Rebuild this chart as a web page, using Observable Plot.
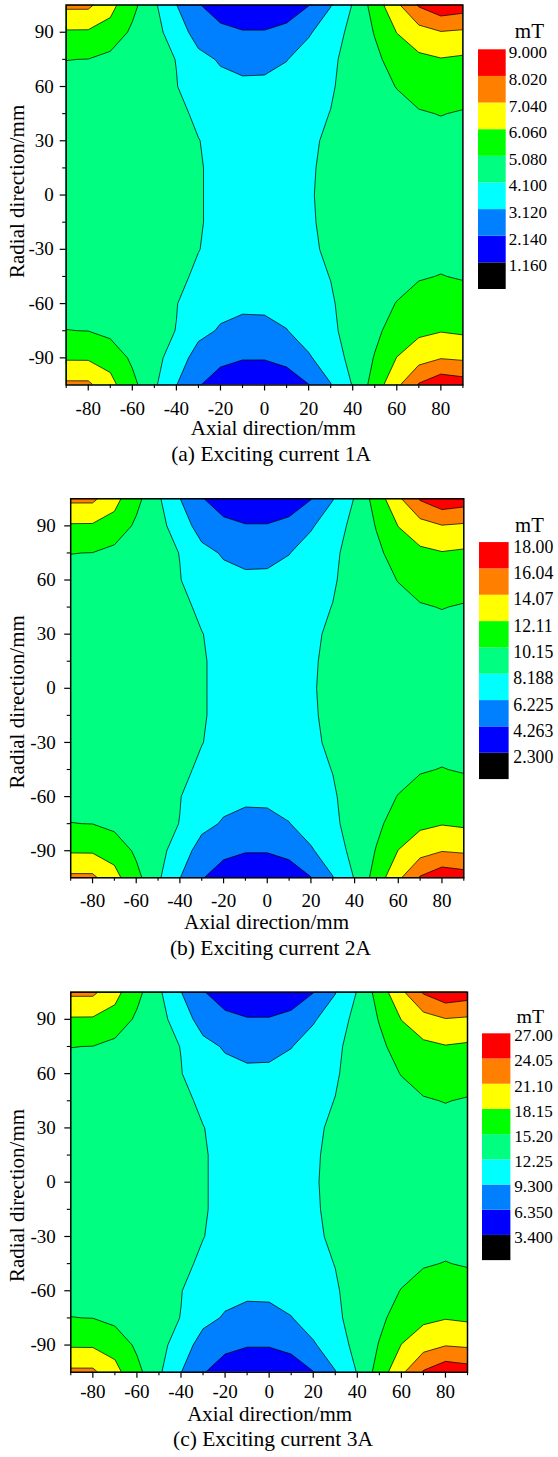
<!DOCTYPE html>
<html>
<head>
<meta charset="utf-8">
<script src="https://cdn.jsdelivr.net/npm/d3@7"></script>
<script src="https://cdn.jsdelivr.net/npm/@observablehq/plot@0.6"></script>
<style>
  html, body { margin: 0; padding: 0; background: #ffffff; }
  #root { position: relative; width: 558px; height: 1457px; overflow: hidden; background: #ffffff; }
  #root > div { position: absolute; }
  #root svg text { font-family: 'Liberation Serif', 'Times New Roman', Times, serif; }
</style>
</head>
<body>
<div id="root"></div>
<script>
// ---- grid coordinates (mm) ----
const xs = [-90, -80, -70, -60, -50, -40, -30, -20, -10, 0, 10, 20, 30, 40, 50, 60, 70, 80, 90];
const ys = [105, 90, 75, 60, 45, 30, 15, 0, -15, -30, -45, -60, -75, -90, -105];

// ---- axis ticks ----
const xTicks = [-80, -60, -40, -20, 0, 20, 40, 60, 80];
const xTickLabels = ["-80", "-60", "-40", "-20", "0", "20", "40", "60", "80"];
const xMinor = [-90, -70, -50, -30, -10, 10, 30, 50, 70, 90];
const yTicks = [-90, -60, -30, 0, 30, 60, 90];
const yTickLabels = ["-90", "-60", "-30", "0", "30", "60", "90"];
const yMinor = [75, 45, 15, -15, -45, -75];

// ---- colour levels ----
const bandColors = ["#000000", "#0000ff", "#0080ff", "#00ffff", "#00ff80", "#00ff00", "#ffff00", "#ff8000", "#ff0000"];

const levelsA = [1.16, 2.14, 3.12, 4.10, 5.08, 6.06, 7.04, 8.02, 9.00];
const labelsA = ["1.160", "2.140", "3.120", "4.100", "5.080", "6.060", "7.040", "8.020", "9.000"];
const levelsB = [2.30, 4.263, 6.225, 8.188, 10.15, 12.11, 14.07, 16.04, 18.00];
const labelsB = ["2.300", "4.263", "6.225", "8.188", "10.15", "12.11", "14.07", "16.04", "18.00"];
const levelsC = [3.40, 6.35, 9.30, 12.25, 15.20, 18.15, 21.10, 24.05, 27.00];
const labelsC = ["3.400", "6.350", "9.300", "12.25", "15.20", "18.15", "21.10", "24.05", "27.00"];

// ---- flux density (mT), rows = ys (105 .. -105), columns = xs (-90 .. 90) ----
const fieldA = [
  [7.24, 7.24, 6.35, 5.37, 4.25, 3.14, 2.19, 1.75, 1.55, 1.55, 1.75, 2.11, 3.08, 4.15, 5.52, 6.84, 8.12, 8.71, 8.51],
  [5.95, 5.94, 5.72, 4.90, 4.39, 3.66, 2.68, 2.34, 2.19, 2.19, 2.34, 3.02, 3.61, 4.39, 5.13, 6.08, 6.65, 6.99, 6.89],
  [5.09, 5.07, 4.81, 4.69, 4.39, 4.08, 3.41, 3.02, 2.73, 2.78, 3.09, 3.51, 3.90, 4.49, 4.88, 5.47, 5.86, 6.01, 5.91],
  [4.88, 4.88, 4.79, 4.69, 4.44, 4.13, 3.61, 3.41, 3.37, 3.37, 3.46, 3.61, 4.00, 4.49, 4.74, 5.11, 5.33, 5.42, 5.37],
  [4.79, 4.79, 4.74, 4.64, 4.49, 4.30, 3.95, 3.71, 3.56, 3.56, 3.66, 3.86, 4.12, 4.44, 4.59, 4.79, 5.03, 5.10, 5.03],
  [4.74, 4.74, 4.69, 4.59, 4.44, 4.30, 4.12, 3.86, 3.71, 3.71, 3.76, 3.95, 4.25, 4.44, 4.54, 4.64, 4.74, 4.88, 4.84],
  [4.69, 4.69, 4.64, 4.54, 4.39, 4.25, 4.16, 3.90, 3.76, 3.76, 3.81, 4.00, 4.30, 4.44, 4.54, 4.59, 4.69, 4.79, 4.79],
  [4.69, 4.69, 4.64, 4.54, 4.39, 4.25, 4.16, 3.90, 3.76, 3.76, 3.81, 4.03, 4.30, 4.44, 4.54, 4.59, 4.69, 4.79, 4.79],
  [4.69, 4.69, 4.64, 4.54, 4.39, 4.25, 4.16, 3.90, 3.76, 3.76, 3.81, 4.00, 4.30, 4.44, 4.54, 4.59, 4.69, 4.79, 4.79],
  [4.74, 4.74, 4.69, 4.59, 4.44, 4.30, 4.12, 3.86, 3.71, 3.71, 3.76, 3.95, 4.25, 4.44, 4.54, 4.64, 4.74, 4.88, 4.84],
  [4.79, 4.79, 4.74, 4.64, 4.49, 4.30, 3.95, 3.71, 3.56, 3.56, 3.66, 3.86, 4.12, 4.44, 4.59, 4.79, 5.03, 5.10, 5.03],
  [4.88, 4.88, 4.79, 4.69, 4.44, 4.13, 3.61, 3.41, 3.37, 3.37, 3.46, 3.61, 4.00, 4.49, 4.74, 5.11, 5.33, 5.42, 5.37],
  [5.09, 5.07, 4.81, 4.69, 4.39, 4.08, 3.41, 3.02, 2.73, 2.78, 3.09, 3.51, 3.90, 4.49, 4.88, 5.47, 5.86, 6.01, 5.91],
  [5.95, 5.94, 5.72, 4.90, 4.39, 3.66, 2.68, 2.34, 2.19, 2.19, 2.34, 3.02, 3.61, 4.39, 5.13, 6.08, 6.65, 6.99, 6.89],
  [7.24, 7.24, 6.35, 5.37, 4.25, 3.14, 2.19, 1.75, 1.55, 1.55, 1.75, 2.11, 3.08, 4.15, 5.52, 6.84, 8.12, 8.71, 8.51]
];

const fieldB = [
  [14.47, 14.47, 12.70, 10.74, 8.48, 6.26, 4.36, 3.48, 3.09, 3.09, 3.48, 4.20, 6.15, 8.29, 11.03, 13.68, 16.23, 17.41, 17.02],
  [11.90, 11.88, 11.43, 9.80, 8.78, 7.30, 5.34, 4.66, 4.36, 4.36, 4.66, 6.03, 7.21, 8.78, 10.25, 12.15, 13.29, 13.98, 13.78],
  [10.17, 10.13, 9.60, 9.37, 8.78, 8.15, 6.81, 6.03, 5.44, 5.54, 6.17, 7.01, 7.80, 8.97, 9.76, 10.94, 11.72, 12.01, 11.82],
  [9.76, 9.76, 9.56, 9.37, 8.87, 8.25, 7.21, 6.81, 6.72, 6.72, 6.91, 7.21, 7.99, 8.97, 9.46, 10.21, 10.64, 10.84, 10.74],
  [9.56, 9.56, 9.46, 9.27, 8.97, 8.58, 7.89, 7.40, 7.11, 7.11, 7.30, 7.70, 8.23, 8.87, 9.17, 9.56, 10.05, 10.19, 10.05],
  [9.46, 9.46, 9.37, 9.17, 8.87, 8.58, 8.23, 7.70, 7.40, 7.40, 7.50, 7.89, 8.48, 8.87, 9.07, 9.27, 9.46, 9.76, 9.66],
  [9.37, 9.37, 9.27, 9.07, 8.78, 8.48, 8.31, 7.80, 7.50, 7.50, 7.60, 7.99, 8.58, 8.87, 9.07, 9.17, 9.37, 9.56, 9.56],
  [9.37, 9.37, 9.27, 9.07, 8.78, 8.48, 8.31, 7.80, 7.50, 7.50, 7.60, 8.05, 8.58, 8.87, 9.07, 9.17, 9.37, 9.56, 9.56],
  [9.37, 9.37, 9.27, 9.07, 8.78, 8.48, 8.31, 7.80, 7.50, 7.50, 7.60, 7.99, 8.58, 8.87, 9.07, 9.17, 9.37, 9.56, 9.56],
  [9.46, 9.46, 9.37, 9.17, 8.87, 8.58, 8.23, 7.70, 7.40, 7.40, 7.50, 7.89, 8.48, 8.87, 9.07, 9.27, 9.46, 9.76, 9.66],
  [9.56, 9.56, 9.46, 9.27, 8.97, 8.58, 7.89, 7.40, 7.11, 7.11, 7.30, 7.70, 8.23, 8.87, 9.17, 9.56, 10.05, 10.19, 10.05],
  [9.76, 9.76, 9.56, 9.37, 8.87, 8.25, 7.21, 6.81, 6.72, 6.72, 6.91, 7.21, 7.99, 8.97, 9.46, 10.21, 10.64, 10.84, 10.74],
  [10.17, 10.13, 9.60, 9.37, 8.78, 8.15, 6.81, 6.03, 5.44, 5.54, 6.17, 7.01, 7.80, 8.97, 9.76, 10.94, 11.72, 12.01, 11.82],
  [11.90, 11.88, 11.43, 9.80, 8.78, 7.30, 5.34, 4.66, 4.36, 4.36, 4.66, 6.03, 7.21, 8.78, 10.25, 12.15, 13.29, 13.98, 13.78],
  [14.47, 14.47, 12.70, 10.74, 8.48, 6.26, 4.36, 3.48, 3.09, 3.09, 3.48, 4.20, 6.15, 8.29, 11.03, 13.68, 16.23, 17.41, 17.02]
];

const fieldC = [
  [21.69, 21.69, 19.04, 16.09, 12.69, 9.36, 6.50, 5.17, 4.58, 4.58, 5.17, 6.26, 9.18, 12.40, 16.53, 20.51, 24.35, 26.12, 25.53],
  [17.83, 17.80, 17.12, 14.67, 13.14, 10.92, 7.97, 6.94, 6.50, 6.50, 6.94, 9.01, 10.78, 13.14, 15.35, 18.21, 19.92, 20.95, 20.66],
  [15.23, 15.17, 14.37, 14.02, 13.14, 12.19, 10.19, 9.01, 8.12, 8.27, 9.21, 10.48, 11.66, 13.43, 14.61, 16.38, 17.56, 18.00, 17.71],
  [14.61, 14.61, 14.32, 14.02, 13.28, 12.34, 10.78, 10.19, 10.04, 10.04, 10.33, 10.78, 11.96, 13.43, 14.17, 15.29, 15.94, 16.23, 16.09],
  [14.32, 14.32, 14.17, 13.87, 13.43, 12.84, 11.81, 11.07, 10.63, 10.63, 10.92, 11.51, 12.31, 13.28, 13.73, 14.32, 15.05, 15.26, 15.05],
  [14.17, 14.17, 14.02, 13.73, 13.28, 12.84, 12.31, 11.51, 11.07, 11.07, 11.22, 11.81, 12.69, 13.28, 13.58, 13.87, 14.17, 14.61, 14.46],
  [14.02, 14.02, 13.87, 13.58, 13.14, 12.69, 12.43, 11.66, 11.22, 11.22, 11.37, 11.96, 12.84, 13.28, 13.58, 13.73, 14.02, 14.32, 14.32],
  [14.02, 14.02, 13.87, 13.58, 13.14, 12.69, 12.43, 11.66, 11.22, 11.22, 11.37, 12.04, 12.84, 13.28, 13.58, 13.73, 14.02, 14.32, 14.32],
  [14.02, 14.02, 13.87, 13.58, 13.14, 12.69, 12.43, 11.66, 11.22, 11.22, 11.37, 11.96, 12.84, 13.28, 13.58, 13.73, 14.02, 14.32, 14.32],
  [14.17, 14.17, 14.02, 13.73, 13.28, 12.84, 12.31, 11.51, 11.07, 11.07, 11.22, 11.81, 12.69, 13.28, 13.58, 13.87, 14.17, 14.61, 14.46],
  [14.32, 14.32, 14.17, 13.87, 13.43, 12.84, 11.81, 11.07, 10.63, 10.63, 10.92, 11.51, 12.31, 13.28, 13.73, 14.32, 15.05, 15.26, 15.05],
  [14.61, 14.61, 14.32, 14.02, 13.28, 12.34, 10.78, 10.19, 10.04, 10.04, 10.33, 10.78, 11.96, 13.43, 14.17, 15.29, 15.94, 16.23, 16.09],
  [15.23, 15.17, 14.37, 14.02, 13.14, 12.19, 10.19, 9.01, 8.12, 8.27, 9.21, 10.48, 11.66, 13.43, 14.61, 16.38, 17.56, 18.00, 17.71],
  [17.83, 17.80, 17.12, 14.67, 13.14, 10.92, 7.97, 6.94, 6.50, 6.50, 6.94, 9.01, 10.78, 13.14, 15.35, 18.21, 19.92, 20.95, 20.66],
  [21.69, 21.69, 19.04, 16.09, 12.69, 9.36, 6.50, 5.17, 4.58, 4.58, 5.17, 6.26, 9.18, 12.40, 16.53, 20.51, 24.35, 26.12, 25.53]
];

// ---- texts ----
const xTitle = "Axial direction/mm";
const yTitle = "Radial direction/mm";
const unitLabel = "mT";
const captions = ["(a) Exciting current 1A", "(b) Exciting current 2A", "(c) Exciting current 3A"];

const FONT = "'Liberation Serif', 'Times New Roman', Times, serif";
const root = document.getElementById("root");

function mainPanel(field, levels, caption, L) {
  const stepX = xs[1] - xs[0];
  const stepY = ys[0] - ys[1];
  const xMin = xs[0], xMax = xs[xs.length - 1];
  const yMin = ys[ys.length - 1], yMax = ys[0];
  const thresholds = levels.slice(0, levels.length - 1);
  const xT = xTicks.map((v, i) => ({v, t: xTickLabels[i]}));
  const yT = yTicks.map((v, i) => ({v, t: yTickLabels[i]}));
  return Plot.plot({
    width: 558,
    height: L.h,
    marginTop: L.mt, marginBottom: L.mb, marginLeft: L.ml, marginRight: L.mr,
    style: {fontFamily: FONT, fontSize: "19px", background: "transparent", color: "#000", overflow: "visible"},
    x: {domain: [xMin, xMax], axis: null},
    y: {domain: [yMin, yMax], axis: null},
    color: {type: "threshold", domain: thresholds, range: bandColors},
    marks: [
      Plot.contour(field.flat(), {
        width: xs.length, height: ys.length,
        x1: xMin - stepX / 2, x2: xMax + stepX / 2,
        y1: yMax + stepY / 2, y2: yMin - stepY / 2,
        fill: Plot.identity, stroke: "#000", strokeWidth: 0.8, strokeOpacity: 0.9,
        thresholds, clip: true
      }),
      Plot.frame({stroke: "#000", strokeWidth: 1.5}),
      // major and minor tick marks (outward)
      Plot.ruleX(xTicks, {y1: yMin, y2: yMin, insetBottom: -6, stroke: "#000", strokeWidth: 1.2}),
      Plot.ruleX(xMinor, {y1: yMin, y2: yMin, insetBottom: -3.5, stroke: "#000", strokeWidth: 1.1}),
      Plot.ruleY(yTicks, {x1: xMin, x2: xMin, insetLeft: -6, stroke: "#000", strokeWidth: 1.2}),
      Plot.ruleY(yMinor, {x1: xMin, x2: xMin, insetLeft: -3.5, stroke: "#000", strokeWidth: 1.1}),
      // tick labels
      Plot.text(xT, {x: "v", y: yMin, text: "t", lineAnchor: "top", dy: L.xLabDy, fontSize: 19, fontFamily: FONT}),
      Plot.text(yT, {x: xMin, y: "v", text: "t", textAnchor: "end", dx: -L.yLabGap, fontSize: 19, fontFamily: FONT}),
      // titles
      Plot.text([xTitle], {frameAnchor: "bottom", text: d => d, dx: L.xtDx, dy: L.xtDy, fontSize: 21, fontFamily: FONT}),
      Plot.text([caption], {frameAnchor: "bottom", text: d => d, dx: L.capDx, dy: L.capDy, fontSize: 21.5, fontFamily: FONT}),
      Plot.text([yTitle], {frameAnchor: "left", text: d => d, textAnchor: "middle", rotate: -90, dx: L.ytDx, dy: L.ytDy, fontSize: 21, fontFamily: FONT})
    ]
  });
}

function legendPanel(labels, G) {
  const boxes = bandColors.map((c, i) => ({i, c, label: labels[i]}));
  return Plot.plot({
    width: 80,
    height: 300,
    marginLeft: 0, marginRight: 80 - G.bw, marginTop: G.top, marginBottom: 300 - G.top - G.bh,
    style: {fontFamily: FONT, fontSize: "18px", background: "transparent", color: "#000", overflow: "visible"},
    x: {domain: [0, 1], axis: null},
    y: {domain: [0, bandColors.length], axis: null},
    marks: [
      Plot.rect(boxes, {x1: 0, x2: 1, y1: d => d.i, y2: d => d.i + 1, fill: d => d.c}),
      Plot.text(boxes, {x: 1, y: d => d.i + 1, text: d => d.label, textAnchor: "start", dx: G.lDx, dy: G.lDy, fontSize: G.lSize, fontFamily: FONT}),
      Plot.text([unitLabel], {frameAnchor: "top-left", text: d => d, textAnchor: "start", dx: G.uDx, dy: G.uDy, fontSize: 21, fontFamily: FONT})
    ]
  });
}

const panels = [
  {field: fieldA, levels: levelsA, labels: labelsA, top: 0,
   L: {h: 493, mt: 4.6, mb: 108.5, ml: 65.7, mr: 95.6, xLabDy: 16, yLabGap: 12.4,
       xtDx: 8.7, xtDy: 49.8, capDx: 6.6, capDy: 76.2, ytDx: -49.2, ytDy: -3.7},
   G: {left: 478, top: 49.3, bw: 27.7, bh: 239.7, lDx: 2.6, lDy: 3, lSize: 17, uDx: 36.3, uDy: -26.7}},
  {field: fieldB, levels: levelsB, labels: labelsB, top: 493,
   L: {h: 493, mt: 5.3, mb: 108.7, ml: 70.2, mr: 94.7, xLabDy: 15.5, yLabGap: 15,
       xtDx: -0.75, xtDy: 51, capDx: 3.25, capDy: 77.5, ytDx: -53.7, ytDy: 13.5},
   G: {left: 479, top: 49.7, bw: 30, bh: 240, lDx: 4.3, lDy: 4.5, lSize: 18, uDx: 36, uDy: -26.1}},
  {field: fieldC, levels: levelsC, labels: labelsC, top: 986,
   L: {h: 471, mt: 5.7, mb: 85.3, ml: 70.3, mr: 91, xLabDy: 12.5, yLabGap: 15,
       xtDx: 0.5, xtDy: 48.5, capDx: 3.85, capDy: 73.5, ytDx: -53.8, ytDy: 13.3},
   G: {left: 482.3, top: 50, bw: 30, bh: 239.7, lDx: 3.7, lDy: 2, lSize: 18, uDx: 36, uDy: -26}}
];

panels.forEach((p, k) => {
  const m = document.createElement("div");
  m.style.left = "0px";
  m.style.top = p.top + "px";
  m.appendChild(mainPanel(p.field, p.levels, captions[k], p.L));
  root.appendChild(m);
  const g = document.createElement("div");
  g.style.left = p.G.left + "px";
  g.style.top = p.top + "px";
  g.appendChild(legendPanel(p.labels, p.G));
  root.appendChild(g);
});
</script>
</body>
</html>
